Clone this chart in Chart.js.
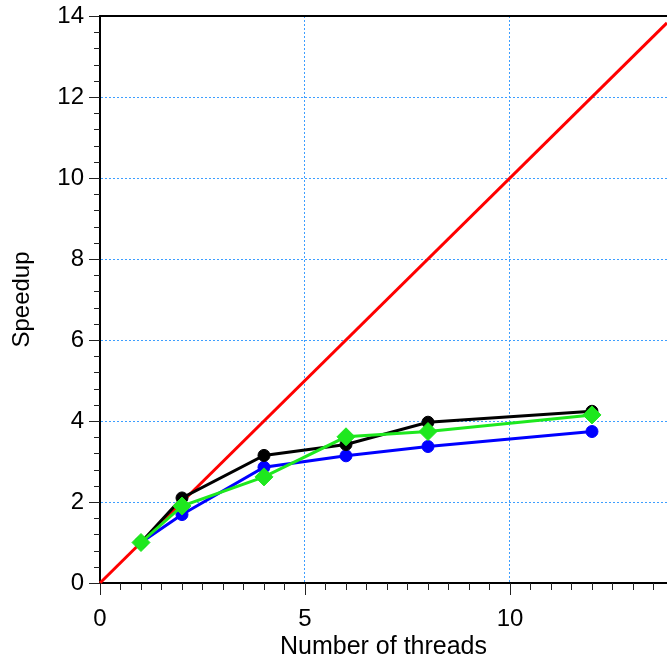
<!DOCTYPE html>
<html>
<head>
<meta charset="utf-8">
<script src="https://cdn.jsdelivr.net/npm/chart.js@4.4.1/dist/chart.umd.min.js"></script>
<style>
  body { margin: 0; background: #fff; }
  canvas { display: block; }
</style>
</head>
<body>
<canvas id="speedup" width="667" height="662"></canvas>
<script>
// threads used and measured speedups
const threads = [1, 2, 4, 6, 8, 12];
const speedupBlack = [1, 2.10, 3.15, 3.42, 3.97, 4.24];
const speedupBlue = [1, 1.69, 2.86, 3.14, 3.37, 3.74];
const speedupGreen = [1, 1.90, 2.62, 3.61, 3.74, 4.15];
// ideal linear speedup
const idealX = [0, 13.83];
const idealY = [0, 13.83];

const xMax = 13.83;
const yMax = 14;

const toPoints = (xs, ys) => xs.map((x, i) => ({ x: x, y: ys[i] }));

// minor/major tick marks + top frame line
const axisDecor = {
  id: 'axisDecor',
  afterDraw(chart) {
    const ctx = chart.ctx;
    const xs = chart.scales.x, ys = chart.scales.y;
    const a = chart.chartArea;
    ctx.save();
    ctx.strokeStyle = '#222';
    ctx.lineWidth = 1;
    ctx.beginPath();
    for (let k = 0; k * 0.4 <= yMax + 1e-6; k++) {
      const v = k * 0.4;
      const py = Math.round(ys.getPixelForValue(v)) + 0.5;
      const major = k % 5 === 0;
      ctx.moveTo(a.left - (major ? 11 : 6), py);
      ctx.lineTo(a.left, py);
    }
    for (let k = 0; k * 0.5 <= xMax; k++) {
      const v = k * 0.5;
      const px = Math.round(xs.getPixelForValue(v)) + 0.5;
      const major = k % 10 === 0;
      ctx.moveTo(px, a.bottom);
      ctx.lineTo(px, a.bottom + (major ? 12 : 7));
    }
    ctx.stroke();
    ctx.strokeStyle = '#000';
    ctx.lineWidth = 2;
    ctx.beginPath();
    ctx.moveTo(a.left - 1, a.top);
    ctx.lineTo(a.right, a.top);
    ctx.stroke();
    ctx.restore();
  }
};

const gridDash = '#3d9eff';

new Chart(document.getElementById('speedup').getContext('2d'), {
  type: 'line',
  data: {
    datasets: [
      {
        data: toPoints(threads, speedupGreen),
        borderColor: '#1ee81e',
        backgroundColor: '#1ee81e',
        borderWidth: 3,
        pointStyle: 'rectRot',
        pointRadius: 9,
        pointBorderWidth: 1,
        tension: 0
      },
      {
        data: toPoints(threads, speedupBlack),
        borderColor: '#000',
        backgroundColor: '#000',
        borderWidth: 3,
        pointStyle: 'circle',
        pointRadius: 6,
        pointBorderWidth: 1,
        tension: 0
      },
      {
        data: toPoints(threads, speedupBlue),
        borderColor: '#0000ff',
        backgroundColor: '#0000ff',
        borderWidth: 3,
        pointStyle: 'circle',
        pointRadius: 6,
        pointBorderWidth: 1,
        tension: 0
      },
      {
        data: toPoints(idealX, idealY),
        borderColor: '#ff0000',
        borderWidth: 3,
        pointRadius: 0,
        tension: 0
      }
    ]
  },
  options: {
    responsive: false,
    animation: false,
    clip: false,
    layout: { autoPadding: false, padding: { top: 16, right: 0, left: 0, bottom: 0 } },
    plugins: { legend: { display: false }, tooltip: { enabled: false } },
    scales: {
      x: {
        type: 'linear',
        min: 0,
        max: xMax,
        afterFit(scale) {
          scale.height = 79;
          scale.paddingLeft = 0;
          scale.paddingRight = 0;
        },
        ticks: {
          stepSize: 5,
          includeBounds: false,
          color: '#000',
          padding: 22,
          maxRotation: 0,
          font: { family: 'Liberation Sans', size: 24 }
        },
        grid: {
          drawTicks: false,
          color: ctx => (ctx.tick && ctx.tick.value > 0 ? gridDash : 'rgba(0,0,0,0)'),
          lineWidth: 1
        },
        border: { display: true, color: '#000', width: 2, dash: [2, 2] },
        title: {
          display: true,
          text: 'Number of threads',
          color: '#000',
          padding: { top: 0, bottom: 0 },
          font: { family: 'Liberation Sans', size: 25 }
        }
      },
      y: {
        min: 0,
        max: yMax,
        afterFit(scale) {
          scale.width = 100;
          scale.paddingTop = 0;
          scale.paddingBottom = 0;
        },
        ticks: {
          stepSize: 2,
          color: '#000',
          padding: 16,
          font: { family: 'Liberation Sans', size: 24 }
        },
        grid: {
          drawTicks: false,
          color: ctx => (ctx.tick && ctx.tick.value > 0 && ctx.tick.value < yMax ? gridDash : 'rgba(0,0,0,0)'),
          lineWidth: 1
        },
        border: { display: true, color: '#000', width: 2, dash: [2, 2] },
        title: {
          display: true,
          text: 'Speedup',
          color: '#000',
          padding: { top: 8, bottom: 0 },
          font: { family: 'Liberation Sans', size: 24 }
        }
      }
    }
  },
  plugins: [axisDecor]
});
</script>
</body>
</html>
